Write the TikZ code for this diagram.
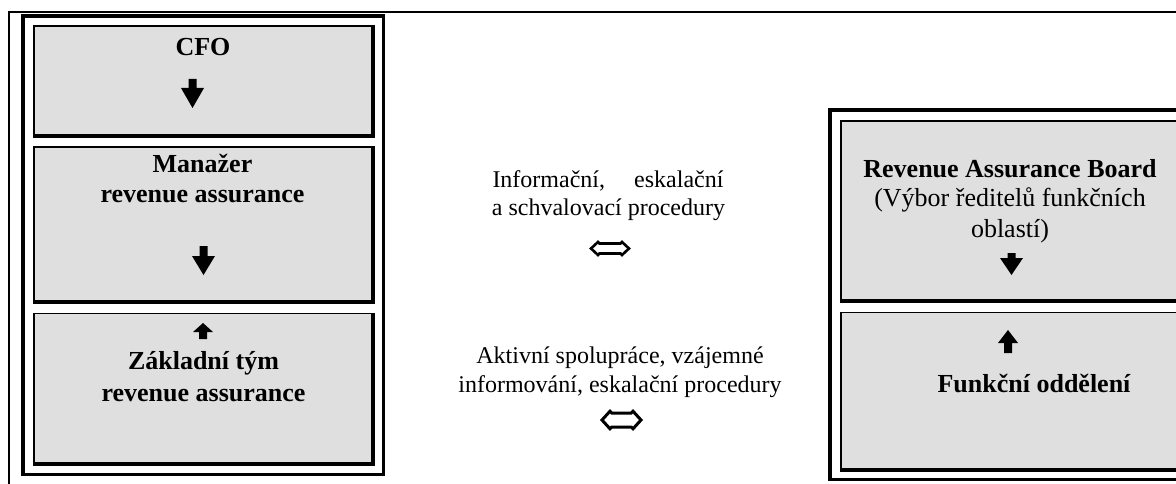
\documentclass[tikz,border=0pt]{standalone}
\usepackage{fontspec}
\setmainfont{Liberation Serif}
\begin{document}
\begin{tikzpicture}[x=1pt,y=-1pt,
  thinrule/.style={line width=1.5pt},
  heavyrule/.style={line width=4pt},
  framerule/.style={line width=2.3pt},
  boxtitle/.style={font=\fontsize{26}{30}\selectfont\bfseries, anchor=base, inner sep=0pt},
  boxnote/.style={font=\fontsize{26}{30}\selectfont, anchor=base, inner sep=0pt},
  linknote/.style={font=\fontsize{24}{27}\selectfont, anchor=base, inner sep=0pt},
  linkarrow/.style={draw, line join=miter, fill=white}]
\useasboundingbox (0,0) rectangle (1176,484);
\definecolor{panel}{RGB}{223,223,223}

% raised panel: thin top/left edge, heavy bottom/right edge
\newcommand{\panelbox}[4]{%
  \fill[panel] (#1,#2) rectangle (#3,#4);
  \draw[thinrule] (#1,#4) -- (#1,#2) -- (#3,#2);
  \draw[heavyrule] (#3,#2-0.75) -- (#3,#4) -- (#1-0.75,#4);
}
% solid block arrow: centre x, tip y, head base y, shaft end y, head width, shaft width
\newcommand{\blockarrow}[6]{%
  \fill (#1,#2) -- (#1+#5/2,#3) -- (#1+#6/2,#3) -- (#1+#6/2,#4)
    -- (#1-#6/2,#4) -- (#1-#6/2,#3) -- (#1-#5/2,#3) -- cycle;
}
% hollow two-way arrow: left tip x, right tip x, mid y, shaft half height, head length, barb
\newcommand{\twowayarrow}[6]{%
  (#1,#3) -- (#1+#5,#3-#4-#6) -- (#1+#5+#6,#3-#4) -- (#2-#5-#6,#3-#4)
  -- (#2-#5,#3-#4-#6) -- (#2,#3) -- (#2-#5,#3+#4+#6) -- (#2-#5-#6,#3+#4)
  -- (#1+#5+#6,#3+#4) -- (#1+#5,#3+#4+#6) -- cycle
}

% table rules
\draw[line width=1.8pt] (8,12) -- (1176,12);
\draw[line width=1.8pt] (9,11.1) -- (9,484);

% left frame
\draw[heavyrule] (23,476) -- (23,16) -- (385,16);
\draw[framerule] (383.5,16) -- (383.5,474.5) -- (21,474.5);
\panelbox{34}{26}{373}{136}
\panelbox{34}{147}{373}{302}
\panelbox{34}{313.5}{373}{464}

% right frame
\draw[heavyrule] (830,481) -- (830,110.5) -- (1182,110.5);
\draw[framerule] (828,479.5) -- (1182,479.5);
\panelbox{841}{121}{1182}{301}
\panelbox{841}{312.5}{1182}{470}

% left column texts
\node[boxtitle] (cfo) at (203,56) {CFO};
\node[boxtitle] (mgr1) at (202.5,173) {Manažer};
\node[boxtitle] (mgr2) at (202.5,202) {revenue assurance};
\node[boxtitle] (team1) at (203.5,369) {Základní tým};
\node[boxtitle] (team2) at (203.5,401) {revenue assurance};

\blockarrow{192.5}{108}{88}{79}{23}{8}
\blockarrow{203.5}{275}{256}{246}{23}{8}
\blockarrow{203}{323}{332}{339}{20}{8}

% right column texts
\node[boxtitle] (rab1) at (1010,178) {Revenue Assurance Board};
\node[boxnote] (rab2) at (1010,207) {(Výbor ředitelů funkčních};
\node[boxnote] (rab3) at (1010,237) {oblastí)};
\node[boxtitle] (dept) at (1034,392) {Funkční oddělení};

\blockarrow{1011.5}{275}{258}{253}{23}{8}
\blockarrow{1008}{330}{343}{353}{20}{8}

% middle link descriptions
\node[linknote] (up1) at (608,188) {\makebox[231pt]{Informační,\hfill eskalační}};
\node[linknote] (up2) at (608.5,215) {a schvalovací procedury};
\node[linknote] (lo1) at (620,363) {Aktivní spolupráce, vzájemné};
\node[linknote] (lo2) at (620,392) {informování, eskalační procedury};

\draw[linkarrow, line width=2.6pt] \twowayarrow{591}{629}{248.5}{5}{7}{1.5};
\draw[linkarrow, line width=3pt] \twowayarrow{602}{641}{420}{7}{8}{1.8};
\end{tikzpicture}
\end{document}
